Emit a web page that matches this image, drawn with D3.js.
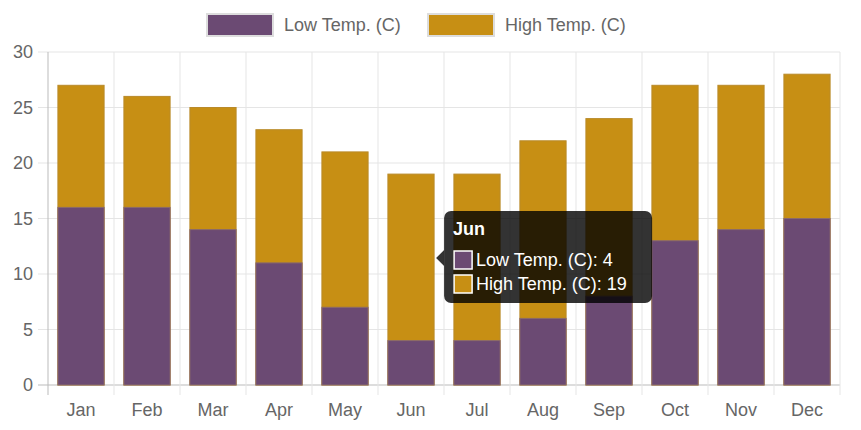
<!DOCTYPE html>
<html>
<head>
<meta charset="utf-8">
<script src="https://cdn.jsdelivr.net/npm/d3@7"></script>
<style>body{margin:0;background:#fff}</style>
</head>
<body>
<script>
var months = ['Jan','Feb','Mar','Apr','May','Jun','Jul','Aug','Sep','Oct','Nov','Dec'];
var lowTemp = [16,16,14,11,7,4,4,6,8,13,14,15];
var highTemp = [27,26,25,23,21,19,19,22,24,27,27,28];
var yTicks = [0,5,10,15,20,25,30];
var seriesNames = ['Low Temp. (C)','High Temp. (C)'];
var colors = ['#6b4a73','#c78f14'];

var W = 861, H = 430;
var svg = d3.select('body').append('svg').attr('width', W).attr('height', H)
    .style('font-family', 'Arial, Liberation Sans, sans-serif');

var x = d3.scaleBand().domain(months).range([48, 840]).paddingInner(0.3).paddingOuter(0.15);
var y = d3.scaleLinear().domain([0, 30]).range([385, 52]);
var step = (840 - 48) / 12;

// grid
svg.append('g').selectAll('line').data(yTicks).join('line')
    .attr('x1', 38).attr('x2', 840).attr('y1', d => y(d)).attr('y2', d => y(d))
    .attr('stroke', d => d === 0 ? '#bbb' : '#e5e5e5');
svg.append('g').selectAll('line').data(d3.range(13)).join('line')
    .attr('x1', d => 48 + d * step).attr('x2', d => 48 + d * step)
    .attr('y1', 52).attr('y2', 395)
    .attr('stroke', d => d === 0 ? '#bbb' : '#e5e5e5');

svg.append('g').selectAll('text').data(yTicks).join('text')
    .attr('x', 33).attr('y', d => y(d)).attr('dy', '0.35em').attr('text-anchor', 'end')
    .attr('font-size', 18).attr('fill', '#666').text(d => d);
svg.append('g').selectAll('text').data(months).join('text')
    .attr('x', d => x(d) + x.bandwidth() / 2).attr('y', 416).attr('text-anchor', 'middle')
    .attr('font-size', 18).attr('fill', '#666').text(d => d);

// bars (overlaid, high behind low)
svg.append('g').selectAll('rect').data(highTemp).join('rect')
    .attr('x', (d, i) => x(months[i])).attr('width', x.bandwidth())
    .attr('y', d => y(d)).attr('height', d => y(0) - y(d))
    .attr('fill', colors[1]).attr('stroke', '#b98a2a').attr('stroke-width', 1);
svg.append('g').selectAll('rect').data(lowTemp).join('rect')
    .attr('x', (d, i) => x(months[i])).attr('width', x.bandwidth())
    .attr('y', d => y(d)).attr('height', d => y(0) - y(d))
    .attr('fill', colors[0]).attr('stroke', '#8a6a6a').attr('stroke-width', 1);

// legend
var leg = [{x: 207, tx: 284}, {x: 428, tx: 505}];
leg.forEach(function (l, i) {
    svg.append('rect').attr('x', l.x).attr('y', 14).attr('width', 66).attr('height', 22)
        .attr('fill', colors[i]).attr('stroke', '#ddd').attr('stroke-width', 2);
    svg.append('text').attr('x', l.tx).attr('y', 25).attr('dy', '0.35em')
        .attr('font-size', 18).attr('fill', '#666').text(seriesNames[i]);
});

// tooltip for Jun
var ti = 5;
var tx = x(months[ti]) + x.bandwidth() + 10, tyMid = 258;
var tt = svg.append('g');
tt.append('path').attr('d', 'M' + (tx - 8) + ',' + tyMid + 'L' + tx + ',' + (tyMid - 8) + 'L' + tx + ',' + (tyMid + 8) + 'Z')
    .attr('fill', 'rgba(0,0,0,0.8)');
tt.append('rect').attr('x', tx).attr('y', 211).attr('width', 208).attr('height', 92).attr('rx', 7)
    .attr('fill', 'rgba(0,0,0,0.8)');
tt.append('text').attr('x', tx + 9).attr('y', 229).attr('dy', '0.35em').attr('fill', '#fff')
    .attr('font-size', 18).attr('font-weight', 'bold').text(months[ti]);
[lowTemp[ti], highTemp[ti]].forEach(function (v, i) {
    var yy = 260 + i * 24;
    tt.append('rect').attr('x', tx + 10).attr('y', yy - 9).attr('width', 18).attr('height', 18)
        .attr('fill', colors[i]).attr('stroke', '#fff').attr('stroke-width', 1.5);
    tt.append('text').attr('x', tx + 32).attr('y', yy).attr('dy', '0.35em').attr('fill', '#fff')
        .attr('font-size', 18).text(seriesNames[i] + ': ' + v);
});
</script>
</body>
</html>
